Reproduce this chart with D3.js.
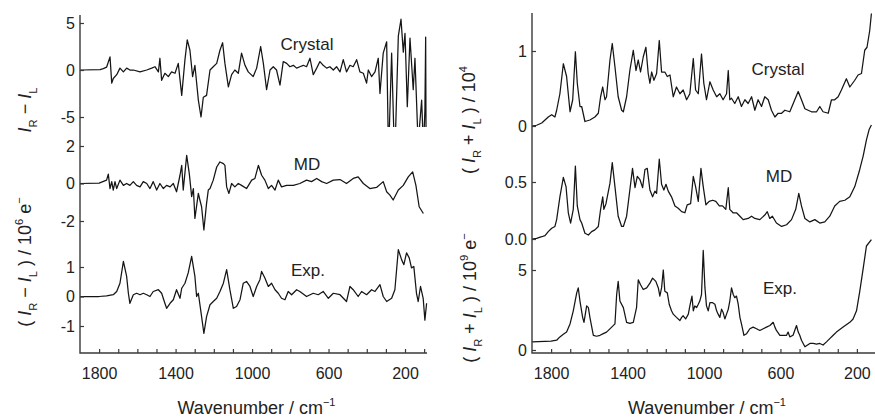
<!DOCTYPE html>
<html><head><meta charset="utf-8">
<script src="https://cdn.jsdelivr.net/npm/d3@7"></script>
<style>
body{margin:0;background:#fff}
text{font-family:"Liberation Sans",Arial,Helvetica,sans-serif;fill:#222}
</style>
</head><body>
<svg id="c" width="875" height="417"></svg>
<script>
// ---------- DATA ----------
// x ticks (wavenumber / cm^-1)
const xMinorTicks = [1800,1700,1600,1500,1400,1300,1200,1100,1000,900,800,700,600,500,400,300,200,100];
const xLabelTicks = [1800,1400,1000,600,200];

// y tick values per sub-panel
const ticksCDCrystal = [5,0,-5];
const ticksCDMD = [2,0,-2];
const ticksCDExp = [1,0,-1];
const ticksRamanCrystal = [1,0];
const ticksRamanMD = [0.5,0.0];
const ticksRamanExp = [5,0];

const panelLabels = ["Crystal","MD","Exp."];

// ROA (I_R - I_L) — crystal
const cdCrystal = [[1900,0],[1891,0],[1795,0.05],[1778,0.15],[1761,0.3],[1743,1.4],[1734,-1.4],[1726,-0.9],[1708,-0.5],[1691,0.2],[1673,-0.2],[1656,0.2],[1639,0],[1621,0],[1586,-0.2],[1551,0],[1525,0.2],[1508,0.35],[1490,-0.2],[1482,1.25],[1473,-1.1],[1456,-0.35],[1438,-0.7],[1421,-0.2],[1403,-0.35],[1386,0.7],[1368,-2.7],[1351,1.1],[1339,3.2],[1325,2.1],[1311,-0.7],[1299,0.5],[1281,-3.2],[1267,-5],[1255,-2.9],[1238,-2.7],[1220,0],[1203,0.35],[1185,0.7],[1168,2.1],[1154,2.9],[1142,0.7],[1124,-1.8],[1107,-0.5],[1090,0],[1072,-0.35],[1055,1.8],[1037,0.5],[1020,-0.2],[994,-0.7],[976,0.2],[955,2.5],[941,0.7],[924,-2.1],[906,0],[889,0.35],[872,0],[854,-1.6],[837,0.9],[819,0.7],[802,0.35],[784,0.5],[767,0.2],[750,0.35],[732,0.5],[715,0.35],[697,1.25],[680,-0.5],[662,0.2],[645,0.9],[628,0.5],[610,0.2],[593,0.35],[575,0],[558,0.35],[540,-0.2],[523,1.1],[506,-0.2],[488,0.5],[471,0.35],[453,1.1],[436,-0.2],[418,-0.35],[401,-1.4],[392,0],[375,-0.7],[357,-0.2],[340,1.25],[331,-2.5],[314,1.8],[296,3],[288,-7],[283,-7],[270,1.8],[258,-7],[250,-7],[235,3.6],[221,5.4],[209,1.9],[200,3.9],[188,-3.9],[174,3.4],[157,-2.1],[148,1.25],[133,-7],[128,-7],[113,-3.2],[106,-7],[101,-7],[96,-4.3],[92,3.5],[90,-7],[87,-7]];

// ROA — MD
const cdMD = [[1900,0],[1800,0.02],[1761,0.18],[1752,0.5],[1743,-0.27],[1734,0.1],[1726,-0.35],[1717,0.1],[1708,-0.27],[1691,0.18],[1673,-0.1],[1656,0],[1639,-0.1],[1621,0.1],[1604,-0.1],[1586,-0.18],[1569,0.1],[1551,0],[1534,-0.27],[1517,0.1],[1499,-0.35],[1482,0],[1464,-0.27],[1447,-0.1],[1429,-0.18],[1412,0],[1395,-0.44],[1377,0.44],[1368,0.97],[1360,-0.35],[1342,1.5],[1328,0.5],[1316,-0.7],[1307,-0.27],[1299,-1.86],[1281,-0.53],[1273,-0.88],[1264,-1.24],[1252,-2.48],[1238,-1.06],[1229,-0.35],[1220,-0.27],[1203,0.18],[1185,0.88],[1168,1.15],[1150,1.06],[1142,0.97],[1133,-0.18],[1121,-0.53],[1107,0],[1090,-0.18],[1072,0],[1055,-0.1],[1029,-0.27],[1002,0.18],[985,0.27],[967,0.97],[950,0.44],[933,0.18],[915,-0.27],[898,-0.1],[880,-0.35],[863,0.18],[846,-0.18],[819,-0.1],[784,-0.1],[750,0],[715,0.18],[689,0.1],[662,0.27],[636,0.1],[610,0],[575,0.18],[540,0.21],[506,0],[471,0.27],[445,0.35],[418,0],[384,-0.27],[349,-0.21],[314,0.1],[296,-0.44],[279,-0.62],[262,-0.88],[235,-0.35],[209,-0.1],[183,0.35],[160,0.62],[143,-0.1],[126,-1.24],[104,-1.6]];

// ROA — experiment
const cdExp = [[1900,0],[1800,0],[1761,0.02],[1726,0.06],[1708,0.17],[1691,0.45],[1673,1.19],[1656,0.68],[1647,0.11],[1639,-0.23],[1621,0.06],[1604,0.11],[1586,0.06],[1569,0.11],[1551,0.06],[1534,0],[1517,0.17],[1490,0.23],[1473,0.11],[1456,-0.23],[1447,-0.4],[1429,-0.23],[1412,-0.11],[1395,0.23],[1377,-0.06],[1368,0.28],[1351,0.45],[1334,0.8],[1316,1.36],[1299,0.68],[1290,0],[1281,0.11],[1264,-0.68],[1252,-1.25],[1238,-0.68],[1220,-0.28],[1203,-0.17],[1185,-0.06],[1168,0.17],[1150,0.45],[1133,0.91],[1116,0.23],[1098,-0.4],[1081,-0.34],[1063,-0.11],[1046,0.45],[1029,0.51],[1011,0.34],[994,0],[976,0.34],[959,0.57],[950,0.85],[933,0.63],[915,0.34],[898,0.45],[880,0.23],[863,0.11],[846,-0.06],[828,-0.11],[811,0.17],[793,0.06],[767,0.23],[750,0.17],[715,0],[680,0.11],[654,0.06],[628,0.17],[601,-0.06],[575,0.11],[540,0.06],[506,-0.17],[488,0.34],[471,0.23],[445,0],[427,0.17],[401,0.06],[375,0.23],[357,0.17],[331,0.4],[314,0],[296,-0.17],[270,-0.06],[253,0.23],[235,1.59],[218,1.25],[206,1.08],[192,1.48],[178,1.31],[166,0.97],[154,1.02],[140,0.11],[131,-0.17],[119,0.34],[105,-0.06],[96,-0.8],[87,-0.23]];

// Raman (I_R + I_L) — crystal
const ramanCrystal = [[1900,0],[1876,0.01],[1849,0.04],[1832,0.08],[1815,0.12],[1797,0.15],[1780,0.12],[1771,0.21],[1754,0.43],[1736,0.83],[1719,0.66],[1701,0.19],[1687,0.35],[1673,0.99],[1663,0.57],[1649,0.26],[1640,0.26],[1623,0.06],[1597,0.08],[1571,0.12],[1553,0.17],[1541,0.39],[1530,0.52],[1518,0.35],[1510,0.39],[1492,0.88],[1480,1.1],[1466,0.79],[1449,0.39],[1431,0.21],[1422,0.19],[1405,0.39],[1388,0.74],[1370,1.01],[1356,0.74],[1344,0.88],[1332,0.72],[1318,0.92],[1304,1.05],[1292,0.7],[1283,0.57],[1274,0.72],[1262,0.61],[1248,0.7],[1234,1.14],[1222,0.72],[1205,0.72],[1192,0.66],[1178,0.68],[1161,0.39],[1144,0.52],[1126,0.43],[1109,0.48],[1091,0.35],[1074,0.43],[1056,0.9],[1044,0.48],[1030,0.43],[1013,0.96],[1001,0.57],[987,0.35],[969,0.59],[952,0.48],[934,0.39],[917,0.43],[900,0.35],[882,0.43],[873,0.74],[865,0.35],[856,0.37],[839,0.3],[821,0.39],[804,0.26],[786,0.35],[769,0.3],[751,0.39],[734,0.21],[717,0.35],[699,0.26],[682,0.39],[664,0.35],[647,0.21],[629,0.12],[612,0.17],[594,0.17],[577,0.21],[551,0.19],[525,0.35],[507,0.46],[490,0.35],[472,0.23],[455,0.21],[438,0.19],[411,0.19],[394,0.26],[377,0.19],[350,0.17],[333,0.35],[316,0.35],[298,0.39],[281,0.48],[255,0.63],[237,0.52],[211,0.61],[194,0.68],[176,0.7],[159,1.01],[147,1.05],[133,1.27],[124,1.5]];

// Raman — MD
const ramanMD = [[1900,0],[1876,0.006],[1849,0.02],[1832,0.03],[1815,0.065],[1797,0.094],[1780,0.11],[1771,0.17],[1754,0.37],[1736,0.54],[1722,0.46],[1710,0.23],[1698,0.14],[1684,0.26],[1673,0.64],[1663,0.29],[1649,0.17],[1640,0.14],[1623,0.05],[1605,0.035],[1588,0.065],[1571,0.08],[1553,0.11],[1541,0.26],[1530,0.37],[1524,0.26],[1513,0.31],[1492,0.49],[1480,0.67],[1466,0.46],[1449,0.2],[1431,0.11],[1422,0.11],[1405,0.2],[1388,0.43],[1374,0.62],[1361,0.45],[1349,0.55],[1335,0.52],[1321,0.45],[1309,0.61],[1297,0.62],[1283,0.43],[1269,0.37],[1257,0.42],[1248,0.4],[1234,0.7],[1222,0.48],[1210,0.43],[1199,0.48],[1187,0.42],[1170,0.37],[1152,0.29],[1135,0.27],[1117,0.24],[1100,0.23],[1088,0.3],[1070,0.31],[1056,0.55],[1044,0.46],[1030,0.33],[1016,0.62],[1004,0.46],[990,0.3],[973,0.33],[955,0.34],[938,0.33],[920,0.29],[903,0.29],[886,0.26],[873,0.45],[865,0.26],[848,0.23],[830,0.23],[812,0.2],[795,0.17],[769,0.18],[751,0.2],[734,0.18],[708,0.17],[682,0.21],[669,0.24],[656,0.18],[642,0.2],[621,0.14],[594,0.11],[568,0.125],[542,0.17],[520,0.26],[504,0.4],[490,0.29],[472,0.18],[446,0.15],[420,0.17],[394,0.14],[368,0.15],[342,0.2],[316,0.29],[290,0.33],[263,0.34],[237,0.37],[211,0.46],[185,0.61],[167,0.73],[150,0.87],[136,0.96],[124,1.0]];

// Raman — experiment
const ramanExp = [[1900,0.51],[1800,0.55],[1771,0.61],[1754,0.82],[1736,0.98],[1719,1.12],[1701,1.63],[1684,2.45],[1666,3.57],[1658,3.88],[1649,3.06],[1635,2.04],[1628,1.73],[1614,2.76],[1605,2.65],[1597,2.04],[1579,0.92],[1562,0.86],[1544,0.92],[1527,1.02],[1510,1.12],[1483,1.43],[1466,1.63],[1457,3.47],[1449,4.29],[1440,3.06],[1422,2.65],[1405,1.73],[1388,1.67],[1370,1.73],[1353,2.65],[1344,4.39],[1332,4.08],[1318,3.78],[1300,3.88],[1283,4.18],[1269,4.49],[1252,4.29],[1239,3.88],[1231,3.37],[1222,3.88],[1213,5.0],[1205,3.67],[1192,3.57],[1182,2.86],[1170,2.45],[1161,2.24],[1144,2.04],[1126,1.84],[1117,2.04],[1109,2.14],[1096,1.94],[1082,2.24],[1074,2.76],[1063,3.37],[1056,2.45],[1048,2.76],[1039,2.65],[1030,2.86],[1022,3.06],[1013,3.47],[1004,6.22],[995,3.88],[987,2.76],[978,2.45],[969,2.96],[955,2.96],[943,2.86],[934,2.45],[926,2.24],[917,2.04],[908,2.55],[900,2.35],[891,1.94],[882,2.24],[873,2.55],[865,3.06],[856,3.88],[847,3.47],[839,3.27],[830,3.37],[821,2.86],[812,2.04],[804,1.63],[791,0.92],[777,1.02],[760,1.33],[743,1.43],[725,1.33],[708,1.22],[690,1.33],[673,1.43],[655,1.53],[638,1.73],[629,1.43],[621,1.22],[603,0.92],[586,0.92],[568,0.92],[560,1.12],[551,0.82],[534,0.92],[516,1.53],[507,1.12],[499,0.92],[490,0.61],[481,0.41],[472,0.2],[464,0.27],[446,0.41],[429,0.41],[411,0.37],[394,0.41],[377,0.31],[359,0.51],[342,0.71],[324,0.92],[307,1.12],[272,1.43],[237,1.73],[220,1.94],[202,2.45],[185,3.67],[167,5.1],[150,6.5],[124,6.9]];

// ---------- DRAW ----------
const svg = d3.select("#c");
const AX = "#3a3a3a";
const FONT_TICK = 16;

const xL = d3.scaleLinear().domain([1900, 85]).range([80, 427]);
const xR = d3.scaleLinear().domain([1900, 100]).range([532, 876]);
const bottomY = 353;

const subPanels = [
  {x:xL, y:d3.scaleLinear().domain([-5,5]).range([117,23]), data:cdCrystal, ticks:ticksCDCrystal, fmt:d=>String(d), clip:[15,127], label:panelLabels[0], lx:307, ly:50},
  {x:xL, y:d3.scaleLinear().domain([-2,2]).range([221,146]), data:cdMD, ticks:ticksCDMD, fmt:d=>String(d), label:panelLabels[1], lx:307, ly:170},
  {x:xL, y:d3.scaleLinear().domain([-1,1]).range([326,267]), data:cdExp, ticks:ticksCDExp, fmt:d=>String(d), label:panelLabels[2], lx:308, ly:276},
  {x:xR, y:d3.scaleLinear().domain([0,1]).range([126,51]), data:ramanCrystal, ticks:ticksRamanCrystal, fmt:d=>String(d), label:panelLabels[0], lx:778, ly:75},
  {x:xR, y:d3.scaleLinear().domain([0,0.5]).range([239,182]), data:ramanMD, ticks:ticksRamanMD, fmt:d3.format(".1f"), label:panelLabels[1], lx:779, ly:182},
  {x:xR, y:d3.scaleLinear().domain([0,5]).range([350,270]), data:ramanExp, ticks:ticksRamanExp, fmt:d=>String(d), label:panelLabels[2], lx:780, ly:294}
];

const defs = svg.append("defs");
subPanels.forEach((p,i) => {
  const xr = p.x.range();
  let g = svg.append("g");
  if (p.clip) {
    defs.append("clipPath").attr("id","cp"+i).append("rect")
      .attr("x", xr[0]).attr("y", p.clip[0]).attr("width", xr[1]-xr[0]).attr("height", p.clip[1]-p.clip[0]);
    g.attr("clip-path","url(#cp"+i+")");
  }
  const line = d3.line().x(d=>p.x(d[0])).y(d=>p.y(d[1]));
  g.append("path").datum(p.data).attr("d", line)
    .attr("fill","none").attr("stroke","#151515").attr("stroke-width",1.25).attr("stroke-linejoin","round");

  // y ticks
  const ax = d3.axisLeft(p.y).tickValues(p.ticks).tickFormat(p.fmt).tickSize(-4).tickPadding(5);
  const ag = svg.append("g").attr("transform",`translate(${xr[0]},0)`).call(ax);
  ag.select(".domain").remove();
  ag.selectAll("line").attr("stroke",AX).attr("stroke-width",1.2);
  ag.selectAll("text").attr("font-size",FONT_TICK).attr("fill","#222")
    .attr("font-family","'Liberation Sans',Arial,sans-serif");

  svg.append("text").attr("x",p.lx).attr("y",p.ly).attr("text-anchor","middle")
    .attr("font-size",17).text(p.label);
});

// axis frames (left + bottom lines)
[[xL,15],[xR,13]].forEach(([x,top]) => {
  const r = x.range();
  svg.append("path").attr("d",`M${r[0]},${top}V${bottomY}H${r[1]}`)
    .attr("fill","none").attr("stroke",AX).attr("stroke-width",1.4);
  const xa = d3.axisBottom(x)
    .tickValues(xMinorTicks.filter(t => x(t) > r[0]+2 && x(t) < r[1]-1))
    .tickFormat(d => xLabelTicks.includes(d) ? String(d) : "")
    .tickSize(-4).tickPadding(15);
  const g = svg.append("g").attr("transform",`translate(0,${bottomY})`).call(xa);
  g.select(".domain").remove();
  g.selectAll("line").attr("stroke",AX).attr("stroke-width",1.2);
  g.selectAll("text").attr("font-size",FONT_TICK).attr("fill","#222")
    .attr("font-family","'Liberation Sans',Arial,sans-serif");
  // x-axis title
  const t = svg.append("text").attr("x",(r[0]+r[1])/2+3).attr("y",414)
    .attr("text-anchor","middle").attr("font-size",18);
  t.append("tspan").text("Wavenumber / cm");
  t.append("tspan").attr("dy",-8).attr("font-size",11).text("−1");
});

// rich rotated titles
function richTitle(x, y, parts, size) {
  const t = svg.append("text").attr("transform",`translate(${x},${y}) rotate(-90)`)
    .attr("text-anchor","middle").attr("font-size",size);
  let shift = 0;
  parts.forEach(p => {
    const target = p.sub ? size*0.32 : p.sup ? -size*0.42 : 0;
    const ts = t.append("tspan").text(p.t).attr("dy", target - shift);
    shift = target;
    if (p.sub || p.sup) ts.attr("font-size", size*0.62);
    if (p.it) ts.attr("font-style","italic");
  });
}
const TS = 18;
richTitle(31, 110, [{t:"I",it:1},{t:"R",sub:1},{t:" − "},{t:"I",it:1},{t:"L",sub:1}], TS);
richTitle(31, 262, [{t:"( "},{t:"I",it:1},{t:"R",sub:1},{t:" − "},{t:"I",it:1},{t:"L",sub:1},{t:" ) / 10"},{t:"6",sup:1},{t:" e"},{t:"−",sup:1}], TS);
richTitle(475, 120, [{t:"( "},{t:"I",it:1},{t:"R",sub:1},{t:" + "},{t:"I",it:1},{t:"L",sub:1},{t:" ) / 10"},{t:"4",sup:1}], TS);
richTitle(476, 298, [{t:"( "},{t:"I",it:1},{t:"R",sub:1},{t:" + "},{t:"I",it:1},{t:"L",sub:1},{t:" ) / 10"},{t:"9",sup:1},{t:" e"},{t:"−",sup:1}], TS);
</script>
</body></html>
